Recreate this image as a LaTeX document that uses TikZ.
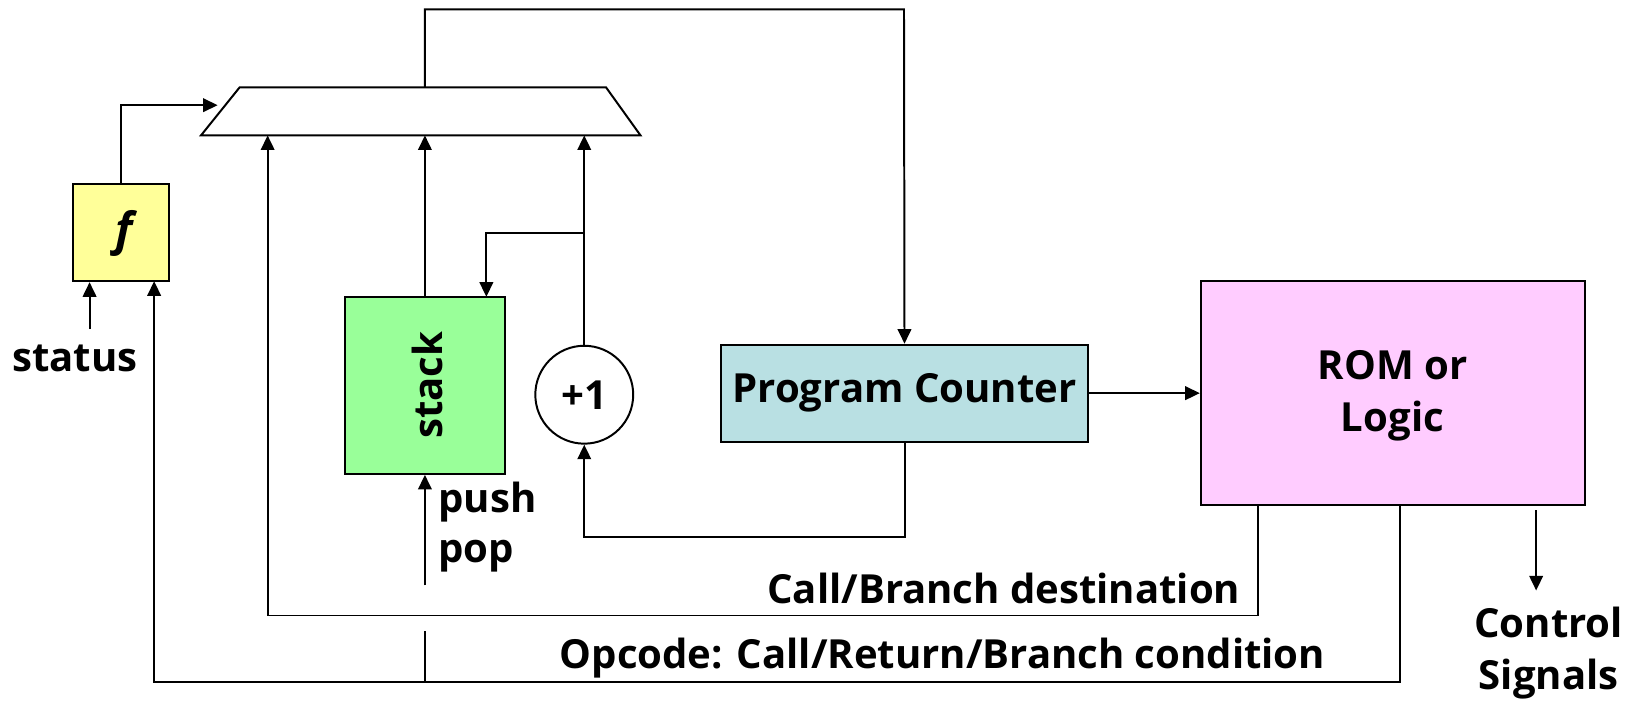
\documentclass[tikz,border=0pt]{standalone}
\usepackage{fontspec}
\setmainfont{Open Sans}
\usetikzlibrary{arrows.meta,calc}
\definecolor{fyel}{HTML}{FFFF99}
\definecolor{sgrn}{HTML}{99FF99}
\definecolor{pcblu}{HTML}{B9E0E3}
\definecolor{rpink}{HTML}{FFCCFF}
\begin{document}
\begin{tikzpicture}[x=1pt,y=-1pt,
  line width=1.9pt,
  arr/.style={-{Triangle[length=14pt,width=13pt]}},
  box/.style={draw, line width=1.9pt, inner sep=0pt},
  lbl/.style={font=\fontsize{38.5}{50}\selectfont\bfseries, inner sep=0pt, align=center},
]
\useasboundingbox (0,0) rectangle (1568,674);

% blocks
\node[box, fill=fyel, minimum width=92pt, minimum height=93pt] (f) at (116,223.5) {};
\node[lbl, font=\fontsize{44}{50}\selectfont\bfseries] (ftext) at (119,224) {\itshape f};
\node[box, fill=sgrn, minimum width=154pt, minimum height=170pt] (stack) at (408,370) {};
\node[lbl, rotate=90] (stacktext) at (410,370) {stack};
\node[box, circle, fill=white, minimum size=94pt] (inc) at (561,379) {};
\node[lbl] (inctext) at (inc.center) {+1};
\node[box, fill=pcblu, minimum width=353pt, minimum height=93pt, lbl] (pc) at (868.5,377.5) {Program Counter};
\node[box, fill=rpink, minimum width=369pt, minimum height=215pt] (rom) at (1337.5,377.5) {};
\node[lbl] (romtext) at (1337,380) {ROM or\\Logic};

% multiplexer
\draw (193,130) -- (230,84) -- (582,84) -- (615,130) -- cycle;
\coordinate (muxtop) at (408,84);
\coordinate (muxL) at (209,101);
\coordinate (muxbot) at (0,130);
\coordinate (muxin1) at (257,130);
\coordinate (topR) at (868,9);

% labels
\node[lbl] (status) at (72,344) {status};
\node[lbl, anchor=west] (push) at (420,482) {push};
\node[lbl, anchor=west] (pop) at (420,534) {pop};
\node[lbl, anchor=east] (dest) at (1192,565) {Call/Branch destination};
\node[lbl] (cond) at (905,632) {Opcode: Call/Return/Branch condition};
\node[lbl] (ctrl) at (1487,627) {Control\\Signals};

% helper coordinates
\coordinate (destY) at (0,591);
\coordinate (condY) at (0,655);
\coordinate (romA) at (1208,485);
\coordinate (romB) at (1344,485);
\coordinate (stIn) at (86,316);
\coordinate (fIn2) at (148,270);
\coordinate (br) at (561,224);
\coordinate (stackIn) at (467,285);
\coordinate (pp) at (408,562);
\coordinate (stub) at (408,606);
\coordinate (cs) at (1475,490);
\coordinate (csEnd) at (1475,567);

% connectors
\draw[arr] (muxtop) |- (topR) -- (pc.north);
\draw[arr] (f.north) |- (muxL);
\draw[arr] (stack.north) -- (stack.north |- muxbot);
\draw[arr] (inc.north) -- (inc.north |- muxbot);
\draw[arr] (br) -| (stackIn);
\draw[arr] (pc.south) -- ++(0,91) -| (inc.south);
\draw[arr] (pc.east) -- (rom.west);
\draw[arr] (romA) -- (romA |- destY) -| (muxin1);
\draw[arr] (romB) -- (romB |- condY) -| (fIn2);
\draw[arr] (stIn) -- (stIn |- f.south);
\draw[arr] (pp) -- (stack.south);
\draw (stub) -- (stub |- condY);
\draw[arr] (cs) -- (csEnd);
\end{tikzpicture}
\end{document}
